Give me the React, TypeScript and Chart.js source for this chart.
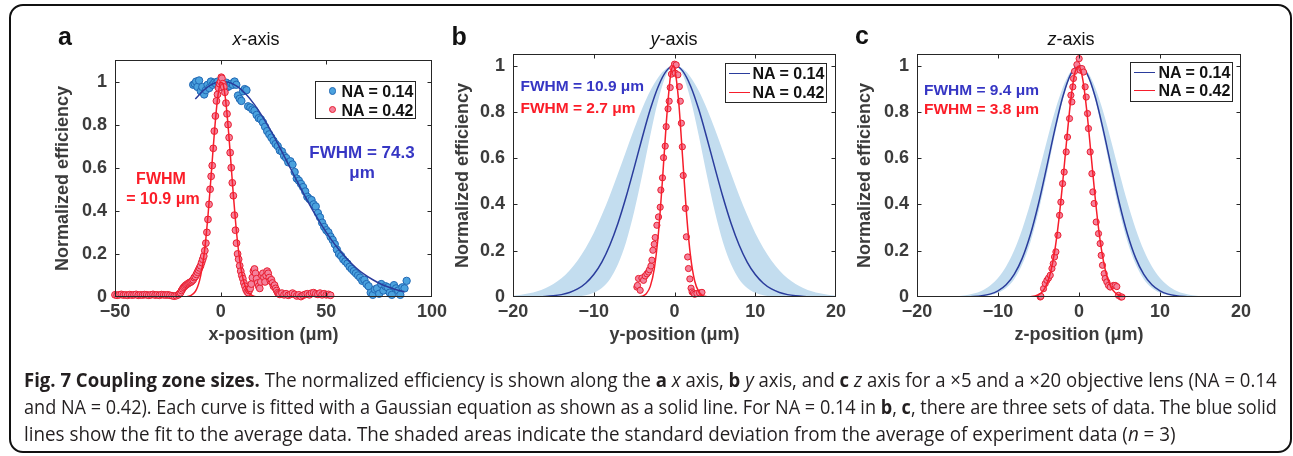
import React, { useEffect, useLayoutEffect, useRef, useState } from 'react';
import { Chart, registerables } from 'chart.js';

Chart.register(...registerables);

// ---------- page ----------
const PAGE_W = 1293;
const PAGE_H = 456;
const FONT = "'Liberation Sans', Arial, Helvetica, sans-serif";
const CAP_FONT = "'Open Sans', 'Noto Sans', sans-serif";
const AXIS_GRAY = '#3b3b3b';
const BOX = '#262626';
const NAVY = '#2a3c9c';
const RED_LINE = '#f61e2c';
const BLUE_TEXT = '#3636c4';
const RED_TEXT = '#fb1d28';
const BAND = '#c3ddef';

// ---------- ticks ----------
const xTicksA = [-50, 0, 50, 100];
const xTicksBC = [-20, -10, 0, 10, 20];
const yTicks = [0, 0.2, 0.4, 0.6, 0.8, 1];

// ---------- panel a (x-axis) ----------
const bluePtsA: [number, number][] = [
  [-13, 0.985], [-12.3, 0.99], [-11.6, 1.0], [-11, 0.975], [-10.2, 1.005], [-9.4, 0.955], [-8.7, 0.975], [-7.8, 0.94],
  [-7, 0.96], [-6.2, 0.985], [-5.4, 0.97], [-4.6, 1.0], [-3.8, 0.985], [-3, 0.995], [-2.2, 0.99], [-1.4, 1.0],
  [-0.6, 0.985], [0.2, 0.975], [1, 0.99], [1.8, 0.98], [2.6, 0.995], [3.4, 0.975], [4.2, 0.98], [5, 0.99],
  [5.8, 0.985], [6.6, 1.0], [7.4, 0.985], [8.2, 0.935], [9, 0.92], [9.8, 0.91], [10.6, 0.955], [11.4, 0.965],
  [12.2, 0.96], [13, 0.885], [14, 0.88], [15, 0.87], [16, 0.865], [17, 0.845], [18, 0.83], [19, 0.825],
  [20, 0.81], [21, 0.79], [22, 0.77], [23, 0.755], [24, 0.74], [25, 0.725], [26, 0.71], [27, 0.7],
  [28, 0.68], [29, 0.675], [30, 0.655], [31, 0.645], [32, 0.625], [33, 0.63], [34, 0.615], [35, 0.58],
  [36, 0.55], [37, 0.54], [38, 0.525], [39, 0.51], [40, 0.49], [41, 0.465], [42, 0.455], [43, 0.45],
  [44, 0.43], [45, 0.42], [46, 0.39], [47, 0.37], [48, 0.345], [49, 0.325], [50, 0.31], [51, 0.3],
  [52, 0.28], [53, 0.265], [54, 0.245], [55, 0.22], [56, 0.2], [57, 0.19], [58, 0.175], [59, 0.165],
  [60, 0.155], [61, 0.14], [62, 0.13], [63, 0.12], [64, 0.11], [65, 0.1], [66, 0.09], [67, 0.075],
  [68, 0.08], [69, 0.06], [70, 0.05], [71, 0.02], [72, 0.01], [73, 0.035], [74, 0.04], [75, 0.015],
  [76, 0.06], [77, 0.03], [78, 0.05], [79, 0.045], [80, 0.02], [81, 0.01], [82, 0.055], [83, 0.04],
  [84, 0.03], [85, 0.01], [86, 0.045], [87, 0.04], [88, 0.075],
];

const blueFitA: [number, number][] = [
  [-12, 0.919], [-8, 0.96], [-4, 0.988], [0, 1.0], [4, 0.996], [8, 0.976], [12, 0.941], [16, 0.893],
  [20, 0.834], [24, 0.767], [28, 0.693], [32, 0.617], [36, 0.54], [40, 0.466], [44, 0.395], [48, 0.33],
  [52, 0.271], [56, 0.219], [60, 0.174], [64, 0.136], [68, 0.105], [72, 0.08], [76, 0.059], [80, 0.044],
  [84, 0.031], [87, 0.024],
];

const redPtsA: [number, number][] = [
  [-50, 0.01], [-49, 0.008], [-48, 0.01], [-47, 0.012], [-46, 0.009], [-45, 0.01], [-44, 0.008], [-43, 0.011],
  [-42, 0.009], [-41, 0.01], [-40, 0.012], [-39, 0.008], [-38, 0.01], [-37, 0.009], [-36, 0.011], [-35, 0.01],
  [-34, 0.008], [-33, 0.01], [-32, 0.012], [-31, 0.009], [-30, 0.01], [-29, 0.008], [-28, 0.011], [-27, 0.01],
  [-26, 0.009], [-25, 0.01], [-24, 0.008], [-23, 0.006], [-22, 0.004], [-21, 0.006], [-20, 0.01],
  [-19.5, 0.015], [-19, 0.02], [-18.5, 0.03], [-18, 0.038], [-17.5, 0.045], [-17, 0.05], [-16.5, 0.055], [-16, 0.058],
  [-15.5, 0.062], [-15, 0.065], [-14.5, 0.068], [-14, 0.07], [-13.5, 0.075], [-13, 0.08], [-12.5, 0.09], [-12, 0.095],
  [-11.5, 0.105], [-11, 0.115], [-10.5, 0.125], [-10, 0.135], [-9.5, 0.145], [-9, 0.16], [-8.5, 0.175], [-8, 0.19],
  [-7.5, 0.215], [-7, 0.25], [-6.5, 0.3], [-6, 0.36], [-5.5, 0.43], [-5, 0.5], [-4.5, 0.56], [-4, 0.61],
  [-3.5, 0.69], [-3, 0.77], [-2.5, 0.84], [-2, 0.91], [-1.5, 0.94], [-1, 0.97], [-0.5, 0.99], [0, 1.0],
  [0.3, 1.02], [0.6, 1.015], [1, 0.99], [1.5, 0.975], [2, 0.95], [2.5, 0.9], [3, 0.85], [3.5, 0.8],
  [4, 0.74], [4.5, 0.67], [5, 0.6], [5.5, 0.53], [6, 0.47], [6.5, 0.38], [7, 0.31], [7.5, 0.25],
  [8, 0.2], [8.5, 0.175], [9, 0.145], [9.5, 0.12], [10, 0.1], [10.5, 0.085], [11, 0.065], [11.5, 0.05],
  [12, 0.035], [12.5, 0.025], [13, 0.02], [13.5, 0.03], [14, 0.04], [14.5, 0.06], [15, 0.09], [15.5, 0.12],
  [16, 0.13], [16.5, 0.11], [17, 0.085], [17.5, 0.065], [18, 0.05], [18.5, 0.04], [19, 0.07], [19.5, 0.1],
  [20, 0.11], [20.5, 0.09], [21, 0.07], [21.5, 0.1], [22, 0.12], [22.5, 0.11], [23, 0.09], [23.5, 0.075],
  [24, 0.08], [24.5, 0.065], [25, 0.05], [25.5, 0.055], [26, 0.04], [26.5, 0.03], [27, 0.02], [27.5, 0.015],
  [28, 0.012], [29, 0.018], [30, 0.01], [31, 0.015], [32, 0.008], [33, 0.012], [34, 0.018], [35, 0.012],
  [36, 0.005], [37, 0.01], [38, 0.002], [39, 0.008], [40, 0.012], [41, 0.015], [42, 0.01], [43, 0.018],
  [44, 0.02], [45, 0.015], [46, 0.012], [47, 0.018], [48, 0.01], [49, 0.015], [50, 0.01], [51, 0.012], [52, 0.008],
];

const redFitA: [number, number][] = [
  [-50, 0], [-25, 0], [-20, 0.0001], [-18, 0.0003], [-16, 0.0017], [-14, 0.0072], [-12, 0.0257], [-11, 0.0453],
  [-10, 0.0761], [-9, 0.122], [-8, 0.186], [-7, 0.271], [-6, 0.377], [-5, 0.5], [-4, 0.631], [-3, 0.759],
  [-2, 0.872], [-1, 0.954], [0, 0.996], [1, 0.991], [2, 0.941], [3, 0.851], [4, 0.734], [5, 0.604],
  [6, 0.474], [7, 0.355], [8, 0.253], [9, 0.172], [10, 0.111], [11, 0.069], [12, 0.0406], [13, 0.0228],
  [14, 0.0122], [16, 0.003], [18, 0.0006], [20, 0.0001], [25, 0], [52, 0],
];

// ---------- panels b, c common grid ----------
const gridX = [
  -20, -19, -18, -17, -16, -15, -14, -13, -12, -11, -10, -9, -8, -7, -6, -5, -4, -3, -2, -1, 0,
  1, 2, 3, 4, 5, 6, 7, 8, 9, 10, 11, 12, 13, 14, 15, 16, 17, 18, 19, 20,
];

// ---------- panel b (y-axis) ----------
const blueFitB = [
  0.0001, 0.0002, 0.0005, 0.0012, 0.0025, 0.0052, 0.0103, 0.0194, 0.0348, 0.0595, 0.097, 0.151, 0.225, 0.319, 0.432,
  0.558, 0.688, 0.811, 0.911, 0.977, 1.0, 0.977, 0.911, 0.811, 0.688, 0.558, 0.432, 0.319, 0.225, 0.151, 0.097,
  0.0595, 0.0348, 0.0194, 0.0103, 0.0052, 0.0025, 0.0012, 0.0005, 0.0002, 0.0001,
];
const bandUpperB = [
  0.0059, 0.0098, 0.0157, 0.0246, 0.0376, 0.056, 0.081, 0.115, 0.158, 0.212, 0.277, 0.354, 0.44, 0.534, 0.63,
  0.726, 0.814, 0.891, 0.95, 0.987, 1.0, 0.987, 0.95, 0.891, 0.814, 0.726, 0.63, 0.534, 0.44, 0.354, 0.277,
  0.212, 0.158, 0.115, 0.081, 0.056, 0.0376, 0.0246, 0.0157, 0.0098, 0.0059,
];
const bandLowerB = [
  0, 0, 0, 0, 0, 0, 0.0004, 0.0012, 0.0032, 0.0079, 0.018, 0.039, 0.077, 0.141, 0.237,
  0.368, 0.527, 0.698, 0.852, 0.961, 1.0, 0.961, 0.852, 0.698, 0.527, 0.368, 0.237, 0.141, 0.077, 0.039, 0.018,
  0.0079, 0.0032, 0.0012, 0.0004, 0, 0, 0, 0, 0, 0,
];
const redPtsB: [number, number][] = [
  [-4.66, 0.043], [-4.58, 0.05], [-4.46, 0.08], [-4.25, 0.029], [-4.04, 0.082], [-3.84, 0.072], [-3.63, 0.091],
  [-3.42, 0.1], [-3.22, 0.108], [-3.1, 0.118], [-2.92, 0.134], [-2.8, 0.159], [-2.68, 0.202], [-2.51, 0.228],
  [-2.39, 0.257], [-2.18, 0.31], [-1.98, 0.346], [-1.77, 0.388], [-1.69, 0.462], [-1.49, 0.515], [-1.36, 0.602],
  [-1.15, 0.652], [-1.03, 0.736], [-0.8, 0.813], [-0.66, 0.846], [-0.53, 0.905], [-0.38, 0.963], [-0.2, 0.989],
  [0.0, 1.006], [0.1, 0.967], [0.21, 1.003], [0.42, 0.96], [0.6, 0.909], [0.72, 0.846], [0.85, 0.751],
  [0.97, 0.649], [1.08, 0.525], [1.35, 0.383], [1.47, 0.26], [1.63, 0.173], [1.73, 0.123], [1.9, 0.078],
  [2.05, 0.038], [2.18, 0.022], [2.35, 0.017], [2.5, 0.012], [2.77, 0.015], [3.1, 0.018], [3.4, 0.02],
];
const redFitB: [number, number][] = [
  [-20, 0], [-5, 0], [-4.5, 0.0006], [-4, 0.0036], [-3.5, 0.014], [-3, 0.046], [-2.5, 0.123], [-2, 0.272],
  [-1.5, 0.5], [-1, 0.76], [-0.5, 0.954], [-0.15, 1.0], [0, 0.991], [0.5, 0.852], [1, 0.605], [1.5, 0.355],
  [2, 0.172], [2.5, 0.069], [3, 0.023], [3.5, 0.0063], [4, 0.0015], [4.5, 0.0003], [5, 0], [20, 0],
];

// ---------- panel c (z-axis) ----------
const blueFitC = [
  0, 0, 0, 0, 0.0001, 0.0003, 0.0008, 0.0021, 0.0053, 0.0123, 0.0264, 0.0526, 0.0976, 0.168, 0.27,
  0.403, 0.559, 0.721, 0.865, 0.964, 1.0, 0.964, 0.865, 0.721, 0.559, 0.403, 0.27, 0.168, 0.0976, 0.0526, 0.0264,
  0.0123, 0.0053, 0.0021, 0.0008, 0.0003, 0.0001, 0, 0, 0, 0,
];
const bandUpperC = [
  0, 0.0001, 0.0003, 0.0007, 0.0017, 0.0036, 0.0074, 0.0146, 0.0273, 0.0486, 0.082, 0.132, 0.202, 0.294, 0.407,
  0.535, 0.67, 0.799, 0.905, 0.975, 1.0, 0.975, 0.905, 0.799, 0.67, 0.535, 0.407, 0.294, 0.202, 0.132, 0.082,
  0.0486, 0.0273, 0.0146, 0.0074, 0.0036, 0.0017, 0.0007, 0.0003, 0.0001, 0,
];
const bandLowerC = [
  0, 0, 0, 0, 0, 0, 0.0004, 0.0012, 0.0032, 0.0079, 0.018, 0.039, 0.077, 0.141, 0.237,
  0.368, 0.527, 0.698, 0.852, 0.961, 1.0, 0.961, 0.852, 0.698, 0.527, 0.368, 0.237, 0.141, 0.077, 0.039, 0.018,
  0.0079, 0.0032, 0.0012, 0.0004, 0, 0, 0, 0, 0, 0,
];
const redPtsC: [number, number][] = [
  [-4.78, 0.0], [-4.7, 0.003], [-4.38, 0.036], [-4.17, 0.058], [-3.96, 0.072], [-3.76, 0.082], [-3.55, 0.094],
  [-3.34, 0.123], [-3.18, 0.144], [-3.02, 0.173], [-2.85, 0.195], [-2.6, 0.267], [-2.4, 0.353], [-2.24, 0.41],
  [-2.03, 0.49], [-1.83, 0.54], [-1.58, 0.627], [-1.42, 0.691], [-1.17, 0.771], [-1.0, 0.872], [-0.88, 0.843],
  [-0.76, 0.908], [-0.68, 0.944], [-0.55, 0.975], [-0.26, 1.004], [0.02, 1.03], [0.15, 0.98], [0.36, 0.987],
  [0.56, 0.972], [0.76, 0.908], [0.89, 0.864], [1.05, 0.793], [1.17, 0.728], [1.38, 0.627], [1.59, 0.533],
  [1.71, 0.454], [1.87, 0.404], [2.12, 0.324], [2.41, 0.274], [2.61, 0.231], [2.74, 0.18], [2.9, 0.137],
  [3.11, 0.101], [3.23, 0.08], [3.44, 0.065], [3.64, 0.05], [3.85, 0.043], [4.26, 0.05], [4.47, 0.05],
  [4.67, 0.045], [4.87, 0.007], [5.17, 0.0], [5.3, 0.0],
];
const redFitC: [number, number][] = [
  [-20, 0], [-7, 0], [-6, 0.0012], [-5, 0.0099], [-4.5, 0.024], [-4, 0.054], [-3.5, 0.108], [-3, 0.198],
  [-2.5, 0.33], [-2, 0.5], [-1.5, 0.686], [-1, 0.856], [-0.5, 0.97], [0, 0.998], [0.5, 0.933], [1, 0.792],
  [1.5, 0.611], [2, 0.428], [2.5, 0.273], [3, 0.158], [3.5, 0.083], [4, 0.039], [4.5, 0.017], [5, 0.0067],
  [6, 0.001], [7, 0], [20, 0],
];

// ---------- helpers ----------
const pairs = (pts: [number, number][]) => pts.map(([x, y]) => ({ x, y }));
const zip = (xs: number[], ys: number[]) => xs.map((x, i) => ({ x, y: ys[i] }));
const fmtTick = (v: number) => {
  const r = Math.round(v * 10) / 10;
  return r < 0 ? '\u2212' + String(Math.abs(r)) : String(r);
};

const lineDs = (data: any[], color: string, width = 1.5) => ({
  data, borderColor: color, backgroundColor: color, borderWidth: width, pointRadius: 0,
  cubicInterpolationMode: 'monotone', fill: false,
});
const ptsDs = (data: any[], fill: string, edge: string, r: number) => ({
  data, showLine: false, borderColor: edge, backgroundColor: fill, pointBackgroundColor: fill,
  pointBorderColor: edge, pointBorderWidth: 1, pointRadius: r, clip: false,
});

const boxTicksPlugin = {
  id: 'boxTicks',
  afterDatasetsDraw(chart: any) {
    const { ctx, chartArea: a, scales } = chart;
    const xs = scales.x;
    const ys = scales.y;
    const L = Math.round(a.left) + 0.5;
    const R = Math.round(a.right) - 0.5;
    const T = Math.round(a.top) + 0.5;
    const B = Math.round(a.bottom) - 0.5;
    const len = 4;
    ctx.save();
    ctx.strokeStyle = BOX;
    ctx.lineWidth = 1;
    ctx.beginPath();
    for (const t of xs.ticks) {
      const px = Math.round(xs.getPixelForValue(t.value)) + 0.5;
      if (px <= L + 1 || px >= R - 1) continue;
      ctx.moveTo(px, B); ctx.lineTo(px, B - len);
      ctx.moveTo(px, T); ctx.lineTo(px, T + len);
    }
    for (const t of ys.ticks) {
      const py = Math.round(ys.getPixelForValue(t.value)) + 0.5;
      if (py <= T + 1 || py >= B - 1) continue;
      ctx.moveTo(L, py); ctx.lineTo(L + len, py);
      ctx.moveTo(R, py); ctx.lineTo(R - len, py);
    }
    ctx.stroke();
    ctx.strokeRect(L, T, R - L, B - T);
    ctx.restore();
  },
};

type Spec = {
  L: number; T: number; R: number; B: number;
  yTitleX: number; xTitleY: number;
  xMin: number; xMax: number; xTicks: number[]; yMax: number;
  xTitle: string; datasets: any[];
};

function buildConfig(s: Spec) {
  const fs = 18;
  const half = (fs * 1.2) / 2;
  const yLeft = s.yTitleX - half;
  const wY = s.L - yLeft;
  const hX = s.xTitleY + half - s.B;
  const font = { family: FONT, size: fs, weight: 'bold', lineHeight: 1.2 };
  return {
    type: 'line',
    data: { datasets: s.datasets },
    options: {
      responsive: false,
      maintainAspectRatio: false,
      animation: false,
      devicePixelRatio: 1,
      events: [],
      layout: { padding: { left: yLeft, top: s.T, right: PAGE_W - s.R, bottom: PAGE_H - s.B - hX } },
      plugins: { legend: { display: false }, tooltip: { enabled: false }, title: { display: false } },
      scales: {
        x: {
          type: 'linear', min: s.xMin, max: s.xMax,
          afterBuildTicks: (sc: any) => { sc.ticks = s.xTicks.map((v) => ({ value: v })); },
          afterFit: (sc: any) => { sc.height = hX; },
          grid: { display: false, drawTicks: false },
          border: { display: false },
          ticks: { font, color: AXIS_GRAY, padding: 4, maxRotation: 0, autoSkip: false, callback: (v: any) => fmtTick(Number(v)) },
          title: { display: true, text: s.xTitle, font, color: AXIS_GRAY, padding: 0 },
        },
        y: {
          type: 'linear', min: 0, max: s.yMax,
          afterBuildTicks: (sc: any) => { sc.ticks = yTicks.map((v) => ({ value: v })); },
          afterFit: (sc: any) => { sc.width = wY; },
          grid: { display: false, drawTicks: false },
          border: { display: false },
          ticks: { font, color: AXIS_GRAY, padding: 8, autoSkip: false, callback: (v: any) => fmtTick(Number(v)) },
          title: { display: true, text: 'Normalized efficiency', font, color: AXIS_GRAY, padding: 0 },
        },
      },
    },
    plugins: [boxTicksPlugin],
  };
}

const BLUE_FILL = '#4ba2de';
const BLUE_EDGE = '#2168b4';
const PINK_FILL = '#f4829c';
const PINK_EDGE = '#e81e30';

const specA: Spec = {
  L: 115, T: 60, R: 432, B: 297, yTitleX: 63.5, xTitleY: 335,
  xMin: -50, xMax: 100, xTicks: xTicksA, yMax: 1.1, xTitle: 'x-position (\u03bcm)',
  datasets: [
    lineDs(pairs(redFitA), RED_LINE),
    ptsDs(pairs(redPtsA), PINK_FILL, PINK_EDGE, 3.4),
    lineDs(pairs(blueFitA), NAVY),
    ptsDs(pairs(bluePtsA), BLUE_FILL, BLUE_EDGE, 3.7),
  ],
};

const bandDs = (upper: number[], lower: number[]) => [
  { data: zip(gridX, upper), borderWidth: 0, borderColor: 'transparent', backgroundColor: BAND, pointRadius: 0, cubicInterpolationMode: 'monotone', fill: '+1' },
  { data: zip(gridX, lower), borderWidth: 0, borderColor: 'transparent', backgroundColor: BAND, pointRadius: 0, cubicInterpolationMode: 'monotone', fill: false },
];

const specB: Spec = {
  L: 513, T: 54, R: 836, B: 297, yTitleX: 463, xTitleY: 335,
  xMin: -20, xMax: 20, xTicks: xTicksBC, yMax: 1.05, xTitle: 'y-position (\u03bcm)',
  datasets: [
    lineDs(pairs(redFitB), RED_LINE),
    ptsDs(pairs(redPtsB), PINK_FILL, PINK_EDGE, 3.1),
    lineDs(zip(gridX, blueFitB), NAVY),
    ...bandDs(bandUpperB, bandLowerB),
  ],
};

const specC: Spec = {
  L: 917, T: 54, R: 1241, B: 297, yTitleX: 865, xTitleY: 335,
  xMin: -20, xMax: 20, xTicks: xTicksBC, yMax: 1.05, xTitle: 'z-position (\u03bcm)',
  datasets: [
    lineDs(pairs(redFitC), RED_LINE),
    ptsDs(pairs(redPtsC), PINK_FILL, PINK_EDGE, 3.1),
    lineDs(zip(gridX, blueFitC), NAVY),
    ...bandDs(bandUpperC, bandLowerC),
  ],
};

function ChartCanvas({ spec }: { spec: Spec }) {
  const ref = useRef<HTMLCanvasElement>(null);
  useEffect(() => {
    const chart = new Chart(ref.current as HTMLCanvasElement, buildConfig(spec) as any);
    return () => chart.destroy();
  }, []);
  return (
    <canvas
      ref={ref}
      width={PAGE_W}
      height={PAGE_H}
      style={{ position: 'absolute', left: 0, top: 0, width: PAGE_W, height: PAGE_H }}
    />
  );
}

// Text positioned by baseline (Liberation Sans: baseline at 0.8465em with line-height 1)
function T({ x, base, size, color = '#111', weight = 400, align = 'left', children }: any) {
  const tx = align === 'center' ? 'translateX(-50%)' : align === 'right' ? 'translateX(-100%)' : 'none';
  return (
    <div
      style={{
        position: 'absolute', left: x, top: base - 0.8465 * size, fontFamily: FONT, fontSize: size,
        lineHeight: 1, fontWeight: weight, color, whiteSpace: 'nowrap', transform: tx,
      }}
    >
      {children}
    </div>
  );
}

function LegendBox({ left, top, width, height }: any) {
  return (
    <div
      style={{
        position: 'absolute', left, top, width, height, boxSizing: 'border-box',
        border: `1px solid ${BOX}`, background: '#fff',
      }}
    />
  );
}

function Dot({ cx, cy, fill, edge }: any) {
  return (
    <div
      style={{
        position: 'absolute', left: cx - 3.7, top: cy - 3.7, width: 7.4, height: 7.4, boxSizing: 'border-box',
        borderRadius: '50%', background: fill, border: `1px solid ${edge}`,
      }}
    />
  );
}

function Seg({ x1, x2, y, color }: any) {
  return <div style={{ position: 'absolute', left: x1, top: y - 0.75, width: x2 - x1, height: 1.5, background: color }} />;
}

const CAPTION_LEFT = 24;
const CAPTION_WIDTHS = [1253, 1253, 1152];
const CAPTION_TOP = 366.2;
const CAPTION_PITCH = 27;

function Caption() {
  const refs = [useRef<HTMLDivElement>(null), useRef<HTMLDivElement>(null), useRef<HTMLDivElement>(null)];
  const [scales, setScales] = useState<number[] | null>(null);
  useLayoutEffect(() => {
    const w = refs.map((r, i) => (r.current ? r.current.offsetWidth : CAPTION_WIDTHS[i]));
    setScales(w.map((wi, i) => CAPTION_WIDTHS[i] / wi));
  }, []);
  const lines = [
    <>
      <b>Fig. 7 Coupling zone sizes.</b> The normalized efficiency is shown along the <b>a</b> <i>x</i> axis,{' '}
      <b>b</b> <i>y</i> axis, and <b>c</b> <i>z</i> axis for a ×5 and a ×20 objective lens (NA = 0.14
    </>,
    <>
      and NA = 0.42). Each curve is fitted with a Gaussian equation as shown as a solid line. For NA = 0.14 in{' '}
      <b>b</b>, <b>c</b>, there are three sets of data. The blue solid
    </>,
    <>
      lines show the fit to the average data. The shaded areas indicate the standard deviation from the average of
      experiment data (<i>n</i> = 3)
    </>,
  ];
  return (
    <>
      {lines.map((content, i) => (
        <div
          key={i}
          ref={refs[i]}
          style={{
            position: 'absolute', left: CAPTION_LEFT, top: CAPTION_TOP + i * CAPTION_PITCH,
            width: 'max-content', whiteSpace: 'nowrap', fontFamily: CAP_FONT, fontSize: 19.5,
            lineHeight: `${CAPTION_PITCH}px`, color: '#231f20', transformOrigin: '0 0',
            transform: `scaleX(${scales ? scales[i] : 1})`,
          }}
        >
          {content}
        </div>
      ))}
    </>
  );
}

export default function App() {
  return (
    <div
      style={{
        position: 'fixed', left: 0, top: 0, width: PAGE_W, height: PAGE_H, background: '#fff', overflow: 'hidden',
      }}
    >
      <div
        style={{
          position: 'absolute', left: 9, top: 4, width: 1283, height: 449, boxSizing: 'border-box',
          border: '2px solid #111', borderRadius: 14,
        }}
      />
      <ChartCanvas spec={specA} />
      <ChartCanvas spec={specB} />
      <ChartCanvas spec={specC} />

      {/* panel letters */}
      <T x={58} base={45} size={25} weight={700}>a</T>
      <T x={451.5} base={45} size={25} weight={700}>b</T>
      <T x={855} base={44} size={25} weight={700}>c</T>

      {/* titles */}
      <T x={256} base={45} size={18} align="center"><i>x</i>-axis</T>
      <T x={674} base={45} size={18} align="center"><i>y</i>-axis</T>
      <T x={1071} base={45} size={18} align="center"><i>z</i>-axis</T>

      {/* panel a annotations */}
      <T x={362} base={158} size={17} weight={700} color={BLUE_TEXT} align="center">FWHM = 74.3</T>
      <T x={362} base={178.5} size={17} weight={700} color={BLUE_TEXT} align="center">μm</T>
      <T x={161} base={185} size={16} weight={700} color={RED_TEXT} align="center">FWHM</T>
      <T x={163} base={204.5} size={16} weight={700} color={RED_TEXT} align="center">= 10.9 μm</T>

      {/* panel b annotations */}
      <T x={520.5} base={91.5} size={15.5} weight={700} color={BLUE_TEXT}>FWHM = 10.9 μm</T>
      <T x={520.5} base={113} size={15.5} weight={700} color={RED_TEXT}>FWHM = 2.7 μm</T>

      {/* panel c annotations */}
      <T x={924} base={95} size={15.5} weight={700} color={BLUE_TEXT}>FWHM = 9.4 μm</T>
      <T x={924} base={114.5} size={15.5} weight={700} color={RED_TEXT}>FWHM = 3.8 μm</T>

      {/* legend a */}
      <LegendBox left={315} top={81} width={101} height={38} />
      <Dot cx={332.3} cy={91} fill={BLUE_FILL} edge={BLUE_EDGE} />
      <Dot cx={332.3} cy={109.5} fill={PINK_FILL} edge={PINK_EDGE} />
      <T x={341.5} base={98} size={16} weight={700} color="#111">NA = 0.14</T>
      <T x={341.5} base={116.5} size={16} weight={700} color="#111">NA = 0.42</T>

      {/* legend b */}
      <LegendBox left={725} top={63} width={102} height={40} />
      <Seg x1={728.5} x2={750} y={73.3} color={NAVY} />
      <Seg x1={728.5} x2={750} y={92.3} color={RED_LINE} />
      <T x={752.5} base={79.5} size={16} weight={700} color="#111">NA = 0.14</T>
      <T x={752.5} base={98.5} size={16} weight={700} color="#111">NA = 0.42</T>

      {/* legend c */}
      <LegendBox left={1130} top={62} width={103} height={40} />
      <Seg x1={1133.5} x2={1155} y={72.7} color={NAVY} />
      <Seg x1={1133.5} x2={1155} y={90.7} color={RED_LINE} />
      <T x={1158.5} base={79} size={16} weight={700} color="#111">NA = 0.14</T>
      <T x={1158.5} base={97} size={16} weight={700} color="#111">NA = 0.42</T>

      <Caption />
    </div>
  );
}
